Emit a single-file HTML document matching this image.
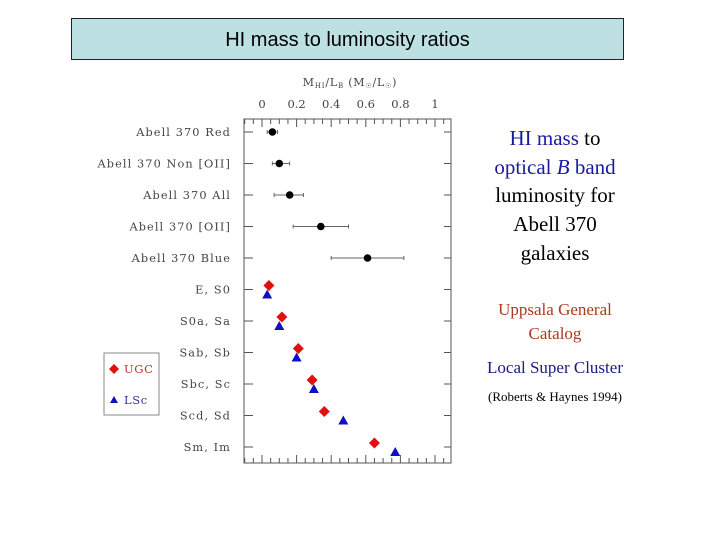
<!DOCTYPE html>
<html><head><meta charset="utf-8"><style>
body{margin:0;background:#fff;width:720px;height:540px;overflow:hidden;position:relative;font-family:"Liberation Serif",serif}
#title{position:absolute;left:71px;top:18px;width:551px;height:40px;background:#bde0e3;border:1px solid #222;font:20px "Liberation Sans",sans-serif;text-align:center;line-height:42px;color:#000}
.rt{position:absolute;left:455px;width:200px;text-align:center}
</style></head><body>
<div id="title">HI mass to luminosity ratios</div>
<div class="rt" style="top:124px;font-size:21px;line-height:28.7px;color:#000"><span style="color:#1a1aa0">HI mass</span> to<br><span style="color:#1a1aa0">optical <i>B</i> band</span><br>luminosity for<br>Abell 370<br>galaxies</div>
<div class="rt" style="top:298px;font-size:17px;line-height:24px;color:#a83c1c">Uppsala General<br>Catalog</div>
<div class="rt" style="top:358px;font-size:17px;color:#1a1a80">Local Super Cluster</div>
<div class="rt" style="top:389px;font-size:13px;color:#000">(Roberts &amp; Haynes 1994)</div>
<svg id="chart" width="720" height="540" style="position:absolute;left:0;top:0"></svg>
<script>
const cats=["Abell 370 Red","Abell 370 Non [OII]","Abell 370 All","Abell 370 [OII]","Abell 370 Blue","E, S0","S0a, Sa","Sab, Sb","Sbc, Sc","Scd, Sd","Sm, Im"];
const abellVals=[0.06,0.10,0.16,0.34,0.61];
const abellLo=[0.03,0.06,0.07,0.18,0.40];
const abellHi=[0.09,0.16,0.24,0.50,0.82];
const ugcVals=[0.04,0.115,0.21,0.29,0.36,0.65];
const lscVals=[0.03,0.10,0.20,0.30,0.47,0.77];
const xTicks=["0","0.2","0.4","0.6","0.8","1"];
const NS="http://www.w3.org/2000/svg";
const svg=document.getElementById("chart");
const L=244,R=451,T=119,B=463;
const F="DejaVu Serif";
function X(v){return 262+v*173;}
function Y(i){return 132+i*31.5;}
function mk(t,a,p){const e=document.createElementNS(NS,t);for(const k in a)e.setAttribute(k,a[k]);(p||svg).appendChild(e);return e;}
const frame=mk("rect",{x:L,y:T,width:R-L,height:B-T,fill:"none",stroke:"#555","stroke-width":1});


for(let k=-2;k<=21;k++){const v=k*0.05;const x=X(v);if(x<=L||x>=R)continue;const len=(k%4==0)?8:5;
mk("line",{x1:x,y1:T,x2:x,y2:T+len,stroke:"#555"});mk("line",{x1:x,y1:B,x2:x,y2:B-len,stroke:"#555"});}
xTicks.forEach(t=>{const e=mk("text",{x:X(parseFloat(t)),y:108,"text-anchor":"middle","font-size":11.5,fill:"#444","font-family":F});e.textContent=t;

});
const at=mk("text",{x:350,y:86,"text-anchor":"middle","font-size":11,fill:"#444","font-family":F,"letter-spacing":"0.8"});
at.innerHTML='M<tspan font-size="7" dy="2">HI</tspan><tspan dy="-2">/L</tspan><tspan font-size="7" dy="2">B</tspan><tspan dy="-2"> (M</tspan><tspan font-size="7" dy="2">☉</tspan><tspan dy="-2">/L</tspan><tspan font-size="7" dy="2">☉</tspan><tspan dy="-2">)</tspan>';


cats.forEach((c,i)=>{const y=Y(i);mk("line",{x1:L,y1:y,x2:L+9,y2:y,stroke:"#555"});mk("line",{x1:R,y1:y,x2:R-7,y2:y,stroke:"#555"});
const e=mk("text",{x:231,y:y+4,"text-anchor":"end","font-size":11.3,fill:"#444","font-family":F,"letter-spacing":"1.1"});e.textContent=c;

});
abellVals.forEach((v,i)=>{const y=Y(i);
const l=mk("line",{x1:X(abellLo[i]),y1:y,x2:X(abellHi[i]),y2:y,stroke:"#666"});


mk("line",{x1:X(abellLo[i]),y1:y-2,x2:X(abellLo[i]),y2:y+2,stroke:"#666"});
mk("line",{x1:X(abellHi[i]),y1:y-2,x2:X(abellHi[i]),y2:y+2,stroke:"#666"});
const d=mk("circle",{cx:X(v),cy:y,r:3.8,fill:"#000"});

});
ugcVals.forEach((v,i)=>{const x=X(v),y=Y(i+5)-4;
const d=mk("polygon",{points:`${x},${y-5.5} ${x+5.5},${y} ${x},${y+5.5} ${x-5.5},${y}`,fill:"#e01010"});

});
lscVals.forEach((v,i)=>{const x=X(v),y=Y(i+5)+5;
const d=mk("polygon",{points:`${x},${y-5} ${x+5},${y+4} ${x-5},${y+4}`,fill:"#1010c0"});

});
const lg=mk("g",{});


mk("rect",{x:104,y:353,width:55,height:62,fill:"#fff",stroke:"#888"},lg);
mk("polygon",{points:"114,364 119,369 114,374 109,369",fill:"#e01010"},lg);
const t1=mk("text",{x:124,y:373,"font-size":11.5,fill:"#c03030","font-family":F,"letter-spacing":"0.6"},lg);t1.textContent="UGC";
mk("polygon",{points:"114,396 118,403 110,403",fill:"#1010c0"},lg);
const t2=mk("text",{x:124,y:404,"font-size":11.5,fill:"#3030a0","font-family":F,"letter-spacing":"0.6"},lg);t2.textContent="LSc";
</script>
</body></html>
